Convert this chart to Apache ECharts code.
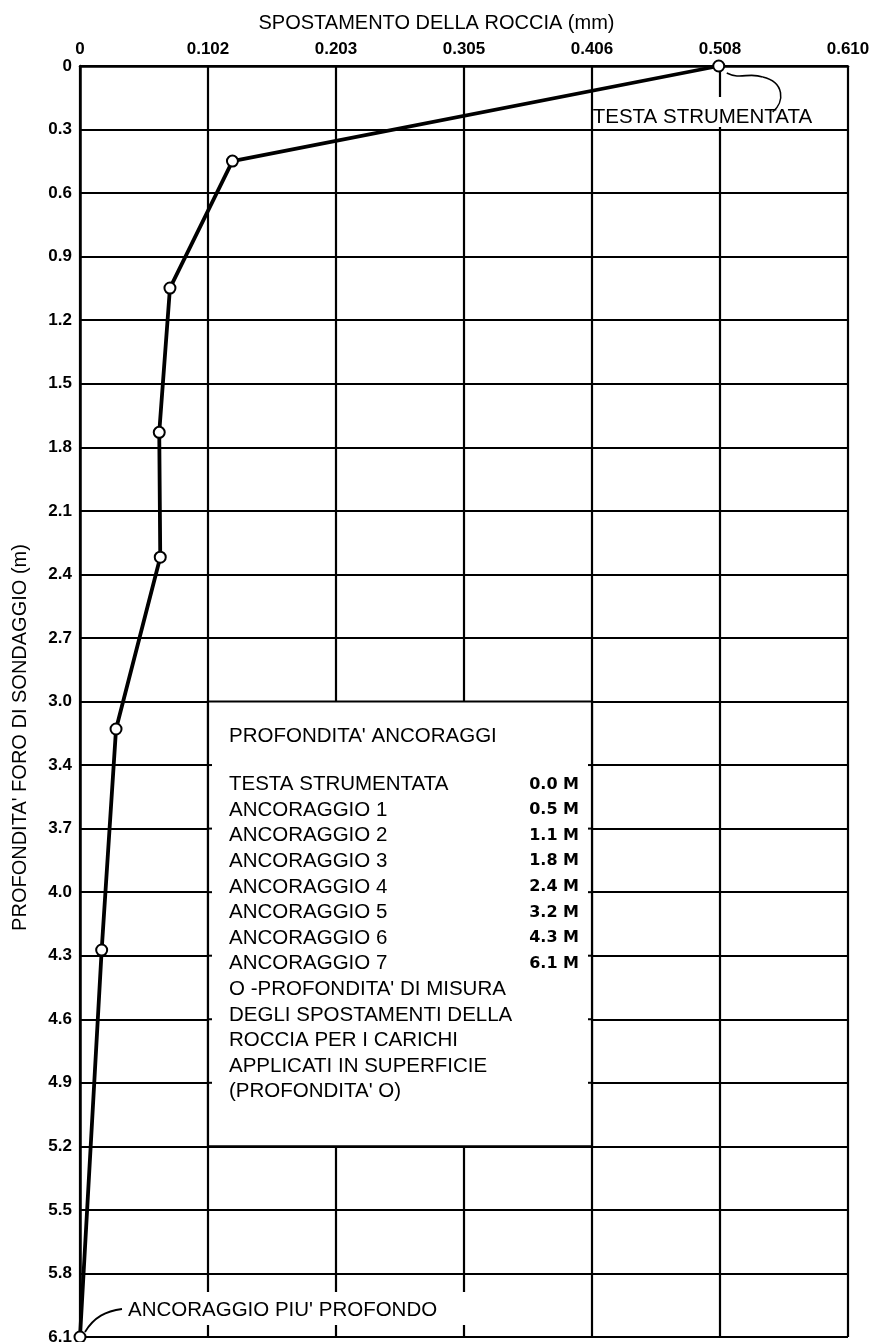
<!DOCTYPE html>
<html>
<head>
<meta charset="utf-8">
<style>
html,body{margin:0;padding:0;background:#fff;}
#c{width:874px;height:1342px;}
</style>
<script src="https://cdn.jsdelivr.net/npm/echarts@6/dist/echarts.min.js"></script>
</head>
<body>
<div id="c"></div>
<script>
// Tick labels (axes step in inches/feet converted to metric)
const xTickLabels = ['0', '0.102', '0.203', '0.305', '0.406', '0.508', '0.610'];
const yTickLabels = ['0', '0.3', '0.6', '0.9', '1.2', '1.5', '1.8', '2.1', '2.4', '2.7', '3.0',
  '3.4', '3.7', '4.0', '4.3', '4.6', '4.9', '5.2', '5.5', '5.8', '6.1'];
const X_STEP = 0.1016;   // mm
const Y_STEP = 0.3048;   // m

// Measured points: displacement (mm) and depth (m)
const displacement = [0.507, 0.121, 0.0714, 0.0629, 0.0637, 0.0286, 0.0172, 0.0];
const depth        = [0.0,   0.456, 1.065,  1.757,  2.356,  3.180,  4.240,  6.096];

const legendTitle = "PROFONDITA' ANCORAGGI";
const anchorNames = ['TESTA STRUMENTATA', 'ANCORAGGIO 1', 'ANCORAGGIO 2', 'ANCORAGGIO 3',
  'ANCORAGGIO 4', 'ANCORAGGIO 5', 'ANCORAGGIO 6', 'ANCORAGGIO 7'];
const anchorDepths = ['0.0 M', '0.5 M', '1.1 M', '1.8 M', '2.4 M', '3.2 M', '4.3 M', '6.1 M'];
const noteLines = ["O -PROFONDITA' DI MISURA", 'DEGLI SPOSTAMENTI DELLA', 'ROCCIA PER I CARICHI',
  'APPLICATI IN SUPERFICIE', "(PROFONDITA' O)"];

(function () {
const FONT = '"Liberation Sans", Arial, sans-serif';
const chart = echarts.init(document.getElementById('c'), null, {renderer: 'canvas'});

const option = {
  backgroundColor: '#fff',
  animation: false,
  grid: {left: 80, right: 26, top: 66, bottom: 5, containLabel: false, outerBoundsMode: 'none'},
  xAxis: {
    type: 'value', position: 'top', min: 0, max: X_STEP * 6, interval: X_STEP,
    name: 'SPOSTAMENTO DELLA ROCCIA (mm)', nameLocation: 'middle', nameGap: 33,
    nameMoveOverlap: false,
    nameTextStyle: {fontFamily: FONT, fontSize: 20, color: '#000', padding: [0, 55, 0, 0]},
    axisLine: {show: true, lineStyle: {color: '#000', width: 2.5}},
    axisTick: {show: false},
    axisLabel: {
      margin: 8, color: '#000', fontFamily: FONT, fontWeight: 'bold', fontSize: 17,
      formatter: v => xTickLabels[Math.round(v / X_STEP)] ?? ''
    },
    splitLine: {show: true, lineStyle: {color: '#000', width: 2.2}}
  },
  yAxis: {
    type: 'value', inverse: true, min: 0, max: Y_STEP * 20, interval: Y_STEP,
    name: "PROFONDITA' FORO DI SONDAGGIO (m)", nameLocation: 'middle', nameGap: 50,
    nameRotate: 90, nameMoveOverlap: false,
    nameTextStyle: {fontFamily: FONT, fontSize: 20, color: '#000', padding: [0, 72, 0, 0]},
    axisLine: {show: true, lineStyle: {color: '#000', width: 2.5}},
    axisTick: {show: false},
    axisLabel: {
      margin: 8, color: '#000', fontFamily: FONT, fontWeight: 'bold', fontSize: 17,
      formatter: v => yTickLabels[Math.round(v / Y_STEP)] ?? ''
    },
    splitLine: {show: true, lineStyle: {color: '#000', width: 2.2}}
  },
  series: [{
    type: 'line',
    data: displacement.map((d, i) => [d, depth[i]]),
    clip: false,
    z: 10,
    lineStyle: {color: '#000', width: 3.8},
    symbol: 'circle', symbolSize: 11,
    itemStyle: {color: '#fff', borderColor: '#000', borderWidth: 2}
  }]
};
chart.setOption(option);

// Annotations positioned from axis values
const px = (x, y) => chart.convertToPixel({gridIndex: 0}, [x, y]);
const bx0 = px(X_STEP * 1, Y_STEP * 10);
const bx1 = px(X_STEP * 4, Y_STEP * 17);
const textEl = (t, x, y, extra) => ({
  type: 'text', z: 30,
  style: Object.assign({text: t, x: x, y: y, fill: '#000', font: '20.5px ' + FONT,
    textVerticalAlign: 'middle'}, extra || {})
});

const g = [];
g.push({type: 'rect', z: 20, shape: {x: bx0[0], y: bx0[1], width: bx1[0] - bx0[0], height: bx1[1] - bx0[1]},
  style: {fill: '#fff', stroke: '#000', lineWidth: 2.2}});
// small stubs where grid lines meet the box
for (let k = 11; k < 17; k++) {
  const yy = px(0, Y_STEP * k)[1];
  g.push({type: 'line', z: 21, shape: {x1: bx0[0], y1: yy, x2: bx0[0] + 4, y2: yy}, style: {stroke: '#000', lineWidth: 2}});
  g.push({type: 'line', z: 21, shape: {x1: bx1[0] - 4, y1: yy, x2: bx1[0], y2: yy}, style: {stroke: '#000', lineWidth: 2}});
}
const tx = bx0[0] + 21;
const vx = bx1[0] - 13;
g.push(textEl(legendTitle, tx, bx0[1] + 35));
const rowStart = bx0[1] + 83, rowH = 25.6;
anchorNames.forEach((n, i) => {
  g.push(textEl(n, tx, rowStart + i * rowH));
  g.push(textEl(anchorDepths[i], vx, rowStart + i * rowH,
    {textAlign: 'right', font: 'bold 16px "DejaVu Sans", sans-serif'}));
});
noteLines.forEach((n, i) => {
  g.push(textEl(n, tx, rowStart + (8 + i) * rowH));
});

// TESTA STRUMENTATA annotation
const pTop = px(displacement[0], depth[0]);
g.push({type: 'rect', z: 20, shape: {x: pTop[0] - 121, y: pTop[1] + 31, width: 220, height: 30},
  style: {fill: '#fff'}});
g.push(textEl('TESTA STRUMENTATA', pTop[0] - 126, pTop[1] + 51));
g.push({type: 'bezierCurve', z: 25, shape: {x1: pTop[0] + 8, y1: pTop[1] + 7, cpx1: pTop[0] + 22, cpy1: pTop[1] + 14,
  cpx2: pTop[0] + 30, cpy2: pTop[1] + 6, x2: pTop[0] + 44, y2: pTop[1] + 11}, style: {stroke: '#000', lineWidth: 1.6, fill: null}});
g.push({type: 'bezierCurve', z: 25, shape: {x1: pTop[0] + 44, y1: pTop[1] + 11, cpx1: pTop[0] + 66, cpy1: pTop[1] + 16,
  cpx2: pTop[0] + 66, cpy2: pTop[1] + 36, x2: pTop[0] + 54, y2: pTop[1] + 46}, style: {stroke: '#000', lineWidth: 1.6, fill: null}});

// ANCORAGGIO PIU' PROFONDO annotation
const pBot = px(displacement[7], depth[7]);
g.push({type: 'rect', z: 20, shape: {x: pBot[0] + 40, y: pBot[1] - 45, width: 350, height: 33},
  style: {fill: '#fff'}});
g.push(textEl("ANCORAGGIO PIU' PROFONDO", pBot[0] + 48, pBot[1] - 27));
g.push({type: 'bezierCurve', z: 25, shape: {x1: pBot[0] + 5, y1: pBot[1] - 5, cpx1: pBot[0] + 14, cpy1: pBot[1] - 20,
  cpx2: pBot[0] + 26, cpy2: pBot[1] - 26, x2: pBot[0] + 42, y2: pBot[1] - 28}, style: {stroke: '#000', lineWidth: 1.8, fill: null}});

chart.setOption({graphic: g});
})();
</script>
</body>
</html>
